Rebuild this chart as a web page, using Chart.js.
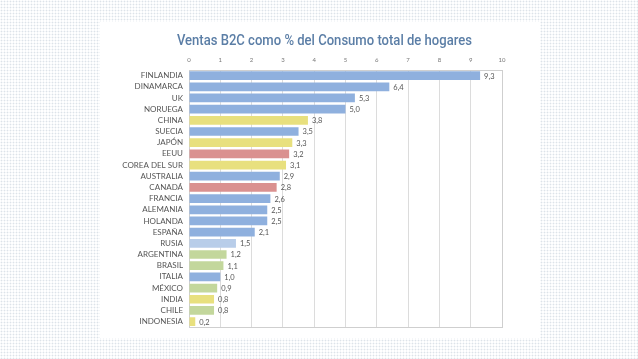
<!DOCTYPE html>
<html>
<head>
<meta charset="utf-8">
<script src="https://cdn.jsdelivr.net/npm/chart.js@4.4.1/dist/chart.umd.min.js"></script>
<style>
  html, body { margin:0; padding:0; width:638px; height:359px; overflow:hidden; }
  body {
    background-color:#ffffff;
    background-image: radial-gradient(circle, #dde3e9 0.8px, transparent 1.1px);
    background-size: 3px 3px;
  }
  #panel { position:absolute; left:100px; top:22px; width:440px; height:316px; background:#fff; }
  #titlebox { position:absolute; left:0; top:9px; width:448px; text-align:center; }
  #title { display:inline-block; transform-origin:50% 50%;
    font-family:Roboto,"DejaVu Sans",sans-serif; font-weight:500;
    font-size:15px; color:#5b7ea6; white-space:nowrap; }
  #wrap { position:absolute; left:0; top:0; width:440px; height:316px; }
</style>
</head>
<body>
<div id="panel">
  <div id="wrap"><canvas id="c" width="440" height="316"></canvas></div>
  <div id="titlebox"><span id="title">Ventas B2C como % del Consumo total de hogares</span></div>
</div>
<script>
const categories = ["FINLANDIA","DINAMARCA","UK","NORUEGA","CHINA","SUECIA","JAPÓN","EEUU","COREA DEL SUR","AUSTRALIA","CANADÁ","FRANCIA","ALEMANIA","HOLANDA","ESPAÑA","RUSIA","ARGENTINA","BRASIL","ITALIA","MÉXICO","INDIA","CHILE","INDONESIA"];
const values = [9.3,6.4,5.3,5.0,3.8,3.5,3.3,3.2,3.1,2.9,2.8,2.6,2.5,2.5,2.1,1.5,1.2,1.1,1.0,0.9,0.8,0.8,0.2];
const groups = ["eu","eu","eu","eu","asia","eu","asia","na","asia","eu","na","eu","eu","eu","eu","ru","la","la","eu","la","asia","la","asia"];
const groupColors = { eu:"#8fb0de", asia:"#e8e07e", na:"#da9190", ru:"#b8cde9", la:"#c3d79c" };
const xTicks = [0,1,2,3,4,5,6,7,8,9,10];

(function fitTitle(){
  const t = document.getElementById("title");
  const w = t.getBoundingClientRect().width;
  t.style.transform = "scaleX(" + (295 / w) + ")";
})();

const labelPlugin = {
  id:"vals",
  afterDatasetsDraw(chart){
    const ctx = chart.ctx;
    const meta = chart.getDatasetMeta(0);
    ctx.save();
    ctx.font = "7.5px Lato, sans-serif";
    ctx.fillStyle = "#555";
    ctx.textAlign = "left";
    ctx.textBaseline = "middle";
    meta.data.forEach((bar,i)=>{
      ctx.fillText(values[i].toFixed(1).replace(".",","), bar.x + 4, bar.y + 0.5);
    });
    ctx.restore();
  },
  beforeDatasetsDraw(chart){
    const a = chart.chartArea, ctx = chart.ctx;
    ctx.save();
    ctx.strokeStyle = "#cfcfcf";
    ctx.lineWidth = 1;
    ctx.strokeRect(Math.round(a.left)+0.5, Math.round(a.top)+0.5, Math.round(a.right-a.left), Math.round(a.bottom-a.top));
    ctx.restore();
  }
};

new Chart(document.getElementById("c"), {
  type:"bar",
  data:{
    labels:categories,
    datasets:[{
      data:values,
      backgroundColor:groups.map(g=>groupColors[g]),
      borderWidth:0,
      barPercentage:0.78,
      categoryPercentage:1.0
    }]
  },
  options:{
    indexAxis:"y",
    responsive:false,
    animation:false,
    events:[],
    layout:{ padding:{ top:34, right:38, bottom:8, left:0 } },
    plugins:{ legend:{display:false}, title:{display:false}, tooltip:{enabled:false} },
    scales:{
      x:{
        position:"top",
        min:0, max:10,
        afterBuildTicks(s){ s.ticks = xTicks.map(v=>({value:v})); },
        afterFit(s){ s.height = 14; },
        grid:{ color:"#dcdcdc", drawTicks:false, lineWidth:1 },
        border:{ display:false },
        ticks:{ font:{ size:6, family:"Lato, sans-serif" }, color:"#777", padding:6 }
      },
      y:{
        afterFit(s){ s.width = 89; },
        grid:{ display:false, drawTicks:false },
        border:{ display:false },
        ticks:{ font:{ size:8, family:"Lato, sans-serif" }, color:"#555", padding:6, autoSkip:false }
      }
    }
  },
  plugins:[labelPlugin]
});
</script>
</body>
</html>
